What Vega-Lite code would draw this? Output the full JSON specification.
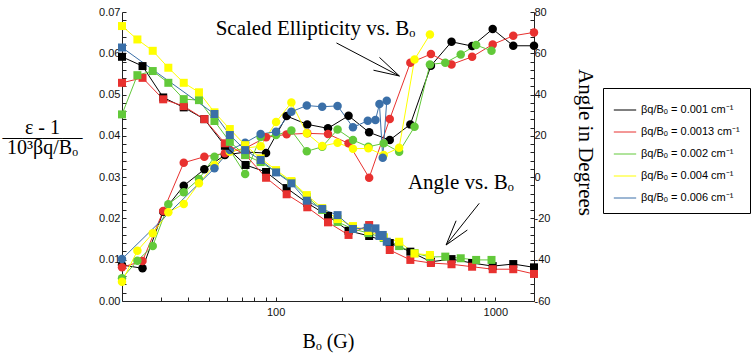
{
  "$schema": "https://vega.github.io/schema/vega-lite/v6.json",
  "width": 412,
  "height": 289,
  "autosize": {"type": "none"},
  "padding": {"left": 122, "top": 12, "right": 218, "bottom": 56},
  "background": "white",
  "config": {
    "view": {"stroke": null},
    "axis": {
      "labelFont": "Liberation Sans", "labelFontSize": 11, "labelColor": "#111",
      "titleFont": "Liberation Serif", "titleFontWeight": "normal", "titleFontSize": 20, "titleColor": "#000",
      "domainColor": "#222", "tickColor": "#222", "grid": false, "labelOverlap": false, "labelBound": false, "labelFlush": false, "tickCount": 200
    }
  },
  "datasets": {
    "ell": [
      {"s":"0.001","B":20,"e":0.00872},{"s":"0.001","B":24.8,"e":0.00792},{"s":"0.001","B":30.8,"e":0.02162},{"s":"0.001","B":38.2,"e":0.02792},{"s":"0.001","B":47.4,"e":0.03189},{"s":"0.001","B":58.8,"e":0.03535},{"s":"0.001","B":73,"e":0.03608},{"s":"0.001","B":90.5,"e":0.03584},{"s":"0.001","B":112.3,"e":0.04479},{"s":"0.001","B":139.4,"e":0.04278},{"s":"0.001","B":173.2,"e":0.04182},{"s":"0.001","B":214.8,"e":0.04487},{"s":"0.001","B":266.6,"e":0.04085},{"s":"0.001","B":330.8,"e":0.03898},{"s":"0.001","B":410.5,"e":0.04278},{"s":"0.001","B":509.3,"e":0.05697},{"s":"0.001","B":632,"e":0.06278},{"s":"0.001","B":784.2,"e":0.06174},{"s":"0.001","B":973,"e":0.06586},{"s":"0.001","B":1207,"e":0.06182},{"s":"0.001","B":1500,"e":0.06182},
      {"s":"0.0013","B":20,"e":0.00816},{"s":"0.0013","B":24.8,"e":0.00969},{"s":"0.0013","B":30.8,"e":0.02179},{"s":"0.0013","B":38.2,"e":0.03349},{"s":"0.0013","B":47.4,"e":0.03494},{"s":"0.0013","B":58.8,"e":0.03576},{"s":"0.0013","B":73,"e":0.03705},{"s":"0.0013","B":90.5,"e":0.03964},{"s":"0.0013","B":112.3,"e":0.04036},{"s":"0.0013","B":139.4,"e":0.04061},{"s":"0.0013","B":173.2,"e":0.04044},{"s":"0.0013","B":214.8,"e":0.03818},{"s":"0.0013","B":266.6,"e":0.02985},{"s":"0.0013","B":330.8,"e":0.04407},{"s":"0.0013","B":410.5,"e":0.0577},{"s":"0.0013","B":509.3,"e":0.05981},{"s":"0.0013","B":632,"e":0.05731},{"s":"0.0013","B":784.2,"e":0.05915},{"s":"0.0013","B":973,"e":0.06215},{"s":"0.0013","B":1207,"e":0.06424},{"s":"0.0013","B":1500,"e":0.06506},
      {"s":"0.002","B":20,"e":0.0055},{"s":"0.002","B":23.5,"e":0.00976},{"s":"0.002","B":27.6,"e":0.01332},{"s":"0.002","B":32.5,"e":0.02341},{"s":"0.002","B":38.2,"e":0.02632},{"s":"0.002","B":44.8,"e":0.02954},{"s":"0.002","B":52.7,"e":0.03494},{"s":"0.002","B":61.9,"e":0.03656},{"s":"0.002","B":72.7,"e":0.03075},{"s":"0.002","B":85.5,"e":0.03971},{"s":"0.002","B":100.5,"e":0.04019},{"s":"0.002","B":118,"e":0.04128},{"s":"0.002","B":138.7,"e":0.03625},{"s":"0.002","B":163,"e":0.03736},{"s":"0.002","B":191.5,"e":0.04153},{"s":"0.002","B":225,"e":0.03898},{"s":"0.002","B":264.5,"e":0.03736},{"s":"0.002","B":310.5,"e":0.03818},{"s":"0.002","B":365,"e":0.03615},{"s":"0.002","B":429,"e":0.0422},{"s":"0.002","B":504,"e":0.05731},{"s":"0.002","B":592,"e":0.0577},{"s":"0.002","B":696,"e":0.05973},{"s":"0.002","B":818,"e":0.06199},{"s":"0.002","B":961,"e":0.06061},
      {"s":"0.004","B":20,"e":0.00467},{"s":"0.004","B":23.5,"e":0.01218},{"s":"0.004","B":27.6,"e":0.01639},{"s":"0.004","B":32.5,"e":0.02148},{"s":"0.004","B":38.2,"e":0.02349},{"s":"0.004","B":44.8,"e":0.0285},{"s":"0.004","B":52.7,"e":0.03293},{"s":"0.004","B":61.9,"e":0.03615},{"s":"0.004","B":72.7,"e":0.03705},{"s":"0.004","B":85.5,"e":0.03748},{"s":"0.004","B":100.5,"e":0.04334},{"s":"0.004","B":118,"e":0.04806},{"s":"0.004","B":138.7,"e":0.04061},{"s":"0.004","B":163,"e":0.03753},{"s":"0.004","B":191.5,"e":0.03833},{"s":"0.004","B":225,"e":0.03688},{"s":"0.004","B":264.5,"e":0.03697},{"s":"0.004","B":310.5,"e":0.03535},{"s":"0.004","B":365,"e":0.03712},{"s":"0.004","B":429,"e":0.05852},{"s":"0.004","B":504,"e":0.06453},
      {"s":"0.006","B":20,"e":0.01017},{"s":"0.006","B":52.7,"e":0.03213},{"s":"0.006","B":61.9,"e":0.03656},{"s":"0.006","B":72.7,"e":0.03833},{"s":"0.006","B":85.5,"e":0.04044},{"s":"0.006","B":100.5,"e":0.04099},{"s":"0.006","B":118,"e":0.04584},{"s":"0.006","B":138.7,"e":0.04734},{"s":"0.006","B":163,"e":0.04705},{"s":"0.006","B":191.5,"e":0.04726},{"s":"0.006","B":225,"e":0.04206},{"s":"0.006","B":262.8,"e":0.04366},{"s":"0.006","B":284.8,"e":0.04383},{"s":"0.006","B":297,"e":0.0477},{"s":"0.006","B":307.4,"e":0.0347},{"s":"0.006","B":320.6,"e":0.0485}
    ],
    "ang": [
      {"s":"0.001","B":20,"a":58.3},{"s":"0.001","B":24.8,"a":53.8},{"s":"0.001","B":30.8,"a":38.6},{"s":"0.001","B":38.2,"a":33.8},{"s":"0.001","B":47.4,"a":28.1},{"s":"0.001","B":58.8,"a":15.2},{"s":"0.001","B":73,"a":5.9},{"s":"0.001","B":90.5,"a":2.5},{"s":"0.001","B":112.3,"a":-5.3},{"s":"0.001","B":139.4,"a":-12.5},{"s":"0.001","B":173.2,"a":-18.8},{"s":"0.001","B":214.8,"a":-26},{"s":"0.001","B":266.6,"a":-28.5},{"s":"0.001","B":330.8,"a":-31.9},{"s":"0.001","B":410.5,"a":-36.1},{"s":"0.001","B":509.3,"a":-41},{"s":"0.001","B":632,"a":-39.7},{"s":"0.001","B":784.2,"a":-41.6},{"s":"0.001","B":973,"a":-43.1},{"s":"0.001","B":1207,"a":-42.1},{"s":"0.001","B":1500,"a":-43.7},
      {"s":"0.0013","B":20,"a":45.7},{"s":"0.0013","B":24.8,"a":48.1},{"s":"0.0013","B":30.8,"a":37.7},{"s":"0.0013","B":38.2,"a":34.4},{"s":"0.0013","B":47.4,"a":28.1},{"s":"0.0013","B":58.8,"a":16.4},{"s":"0.0013","B":73,"a":10.7},{"s":"0.0013","B":90.5,"a":-0.3},{"s":"0.0013","B":112.3,"a":-8.3},{"s":"0.0013","B":139.4,"a":-14.6},{"s":"0.0013","B":173.2,"a":-21.9},{"s":"0.0013","B":214.8,"a":-28},{"s":"0.0013","B":266.6,"a":-23.2},{"s":"0.0013","B":330.8,"a":-35.3},{"s":"0.0013","B":410.5,"a":-40.1},{"s":"0.0013","B":509.3,"a":-41.6},{"s":"0.0013","B":632,"a":-42.2},{"s":"0.0013","B":784.2,"a":-43.4},{"s":"0.0013","B":973,"a":-44.6},{"s":"0.0013","B":1207,"a":-44.6},{"s":"0.0013","B":1500,"a":-46.9},
      {"s":"0.002","B":20,"a":30.4},{"s":"0.002","B":23.5,"a":49.4},{"s":"0.002","B":27.6,"a":51.4},{"s":"0.002","B":32.5,"a":45.7},{"s":"0.002","B":38.2,"a":37.8},{"s":"0.002","B":44.8,"a":37.3},{"s":"0.002","B":52.7,"a":27.2},{"s":"0.002","B":61.9,"a":17.1},{"s":"0.002","B":72.7,"a":10.7},{"s":"0.002","B":85.5,"a":7.3},{"s":"0.002","B":100.5,"a":2.5},{"s":"0.002","B":118,"a":-2.4},{"s":"0.002","B":138.7,"a":-9.6},{"s":"0.002","B":163,"a":-15.9},{"s":"0.002","B":191.5,"a":-21.7},{"s":"0.002","B":225,"a":-25.1},{"s":"0.002","B":264.5,"a":-27.1},{"s":"0.002","B":310.5,"a":-29.5},{"s":"0.002","B":365,"a":-33.4},{"s":"0.002","B":429,"a":-36.8},{"s":"0.002","B":504,"a":-38.7},{"s":"0.002","B":592,"a":-38.5},{"s":"0.002","B":696,"a":-39.3},{"s":"0.002","B":818,"a":-40.1},{"s":"0.002","B":961,"a":-40.1},
      {"s":"0.004","B":20,"a":73.2},{"s":"0.004","B":23.5,"a":66.7},{"s":"0.004","B":27.6,"a":61.2},{"s":"0.004","B":32.5,"a":53},{"s":"0.004","B":38.2,"a":45.7},{"s":"0.004","B":44.8,"a":41.1},{"s":"0.004","B":52.7,"a":31.4},{"s":"0.004","B":61.9,"a":23.3},{"s":"0.004","B":72.7,"a":15.5},{"s":"0.004","B":85.5,"a":9.1},{"s":"0.004","B":100.5,"a":3.4},{"s":"0.004","B":118,"a":-1.9},{"s":"0.004","B":138.7,"a":-8.7},{"s":"0.004","B":163,"a":-15},{"s":"0.004","B":191.5,"a":-20.3},{"s":"0.004","B":225,"a":-23.7},{"s":"0.004","B":264.5,"a":-26.1},{"s":"0.004","B":310.5,"a":-29},{"s":"0.004","B":365,"a":-31.3},{"s":"0.004","B":429,"a":-37},{"s":"0.004","B":504,"a":-37.7},
      {"s":"0.006","B":20,"a":62.8},{"s":"0.006","B":52.7,"a":30.6},{"s":"0.006","B":61.9,"a":20.4},{"s":"0.006","B":72.7,"a":13.1},{"s":"0.006","B":85.5,"a":8.3},{"s":"0.006","B":100.5,"a":2.3},{"s":"0.006","B":118,"a":-3},{"s":"0.006","B":138.7,"a":-11.4},{"s":"0.006","B":163,"a":-15.4},{"s":"0.006","B":191.5,"a":-18.4},{"s":"0.006","B":225,"a":-25.1},{"s":"0.006","B":262.8,"a":-24.5},{"s":"0.006","B":284.8,"a":-24.8},{"s":"0.006","B":297,"a":-28.5},{"s":"0.006","B":307.4,"a":-28},{"s":"0.006","B":320.6,"a":-31.3}
    ],
    "arrows": [
      {"B1":189.3,"e1":0.0625,"B2":366,"e2":0.0545},
      {"B1":297,"e1":0.059,"B2":366,"e2":0.0545},
      {"B1":279,"e1":0.0559,"B2":366,"e2":0.0545},
      {"B1":845,"e1":0.02366,"B2":597,"e2":0.01356},
      {"B1":663,"e1":0.01944,"B2":597,"e2":0.01356},
      {"B1":746,"e1":0.01719,"B2":597,"e2":0.01356}
    ],
    "notes": [
      {"B":152,"e":0.0659,"t":"Scaled Ellipticity vs. Bₒ"},
      {"B":697,"e":0.0286,"t":"Angle vs. Bₒ"}
    ]
  },
  "layer": [
    {
      "layer": [
        {
          "data": {"name": "ell"},
          "mark": {"type": "line", "strokeWidth": 1},
          "encoding": {
            "x": {"field": "B", "type": "quantitative",
              "scale": {"type": "log", "domain": [20, 1500], "nice": false},
              "axis": {"orient": "bottom", "values": [30,40,50,60,70,80,90,100,200,300,400,500,600,700,800,900,1000],
                "labelExpr": "datum.value == 100 || datum.value == 1000 ? format(datum.value, 'd') : ''",
                "tickSize": -4, "tickCount": 200,
                "encode": {"ticks": {"update": {"y2": {"signal": "datum.value == 100 || datum.value == 1000 ? -6 : -3"}}}},
                "labelPadding": 9, "title": "Bₒ (G)", "titleY": 40, "titleBaseline": "middle"}},
            "y": {"field": "e", "type": "quantitative",
              "scale": {"domain": [0, 0.07], "nice": false, "zero": false},
              "axis": {"orient": "left", "tickCount": 200,
                "values": [0,0.002,0.004,0.006,0.008,0.01,0.012,0.014,0.016,0.018,0.02,0.022,0.024,0.026,0.028,0.03,0.032,0.034,0.036,0.038,0.04,0.042,0.044,0.046,0.048,0.05,0.052,0.054,0.056,0.058,0.06,0.062,0.064,0.066,0.068,0.07],
                "labelExpr": "abs(datum.value*100 - round(datum.value*100)) < 0.001 ? format(datum.value, '.2f') : ''",
                "tickSize": -4,
                "encode": {"ticks": {"update": {"x2": {"signal": "abs(datum.value*100 - round(datum.value*100)) < 0.001 ? 7 : 3.5"}}}},
                "labelPadding": 6,
                "title": ["ε - 1", "————", "10³βq/Bₒ"],
                "titleAngle": 0, "titleX": -80, "titleY": 115, "titleAlign": "center", "titleBaseline": "middle", "titleLineHeight": 10}},
            "color": {"field": "s", "type": "nominal",
              "scale": {"domain": ["0.001","0.0013","0.002","0.004","0.006"], "range": ["#000000","#e8312f","#62c93a","#ffff00","#3a6fa8"]},
              "legend": {"orient": "none", "legendX": 481, "legendY": 76, "title": null,
                "symbolType": "stroke", "symbolSize": 500, "symbolStrokeWidth": 1, "symbolOpacity": 1,
                "labelFont": "Liberation Sans", "labelFontSize": 11, "labelColor": "#000",
                "labelExpr": "'βq/Bₒ = ' + datum.label + ' cm⁻¹'",
                "strokeColor": "#000", "fillColor": "#fff", "padding": 10, "rowPadding": 5, "labelOffset": 4}}
          }
        },
        {
          "data": {"name": "ell"},
          "mark": {"type": "point", "shape": "circle", "filled": true, "size": 72, "opacity": 1},
          "encoding": {
            "x": {"field": "B", "type": "quantitative"},
            "y": {"field": "e", "type": "quantitative"},
            "color": {"field": "s", "type": "nominal"}
          }
        },
        {
          "data": {"name": "arrows"},
          "mark": {"type": "rule", "color": "#000", "strokeWidth": 1},
          "encoding": {
            "x": {"field": "B1", "type": "quantitative"},
            "y": {"field": "e1", "type": "quantitative"},
            "x2": {"field": "B2"},
            "y2": {"field": "e2"}
          }
        },
        {
          "data": {"name": "notes"},
          "mark": {"type": "text", "font": "Liberation Serif", "fontSize": 21, "align": "center", "baseline": "middle", "color": "#000"},
          "encoding": {
            "x": {"field": "B", "type": "quantitative"},
            "y": {"field": "e", "type": "quantitative"},
            "text": {"field": "t"}
          }
        }
      ]
    },
    {
      "layer": [
        {
          "data": {"name": "ang"},
          "mark": {"type": "line", "strokeWidth": 1},
          "encoding": {
            "x": {"field": "B", "type": "quantitative"},
            "y": {"field": "a", "type": "quantitative",
              "scale": {"domain": [-60, 80], "nice": false, "zero": false},
              "axis": {"orient": "right", "tickCount": 200,
                "values": [-60,-56,-52,-48,-44,-40,-36,-32,-28,-24,-20,-16,-12,-8,-4,0,4,8,12,16,20,24,28,32,36,40,44,48,52,56,60,64,68,72,76,80],
                "labelExpr": "datum.value % 20 == 0 ? '' + datum.value : ''",
                "tickSize": -4,
                "encode": {"ticks": {"update": {"x2": {"signal": "datum.value % 20 == 0 ? -7 : -3.5"}}}},
                "labelPadding": 4,
                "title": "Angle in Degrees", "titleAngle": 90, "titleX": 50, "titleY": 130, "titleAlign": "center", "titleBaseline": "middle", "titleFontSize": 21}},
            "color": {"field": "s", "type": "nominal"}
          }
        },
        {
          "data": {"name": "ang"},
          "mark": {"type": "point", "shape": "square", "filled": true, "size": 64, "opacity": 1},
          "encoding": {
            "x": {"field": "B", "type": "quantitative"},
            "y": {"field": "a", "type": "quantitative"},
            "color": {"field": "s", "type": "nominal"}
          }
        }
      ]
    }
  ],
  "resolve": {"scale": {"y": "independent"}}
}
